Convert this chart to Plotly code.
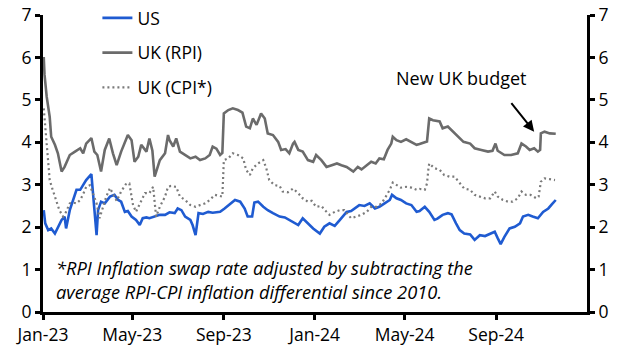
import plotly.graph_objects as go

# ---- data ----
us_dates = ["2023-01-02","2023-01-04","2023-01-08","2023-01-12","2023-01-17","2023-01-21","2023-01-26","2023-01-30",
 "2023-02-01","2023-02-06","2023-02-10","2023-02-15","2023-02-20","2023-02-24","2023-02-28","2023-03-07","2023-03-09",
 "2023-03-12","2023-03-14","2023-03-16","2023-03-20","2023-03-25","2023-04-01","2023-04-07","2023-04-12","2023-04-16",
 "2023-04-21","2023-04-25","2023-04-30","2023-05-06","2023-05-11","2023-05-15","2023-05-20","2023-05-24","2023-05-31",
 "2023-06-07","2023-06-14","2023-06-20","2023-06-27","2023-07-01","2023-07-06","2023-07-11","2023-07-18","2023-07-21",
 "2023-07-25","2023-07-29","2023-08-04","2023-08-11","2023-08-17","2023-08-27","2023-09-02","2023-09-09","2023-09-16",
 "2023-09-23","2023-09-29","2023-10-03","2023-10-09","2023-10-12","2023-10-17","2023-10-24","2023-10-30","2023-11-06",
 "2023-11-15","2023-11-22","2023-11-28","2023-12-03","2023-12-10","2023-12-16","2023-12-23","2023-12-30","2024-01-08",
 "2024-01-14","2024-01-21","2024-01-28","2024-02-04","2024-02-08","2024-02-13","2024-02-19","2024-02-24","2024-03-01",
 "2024-03-08","2024-03-15","2024-03-22","2024-03-28","2024-04-04","2024-04-11","2024-04-14","2024-04-20","2024-04-26",
 "2024-05-03","2024-05-10","2024-05-17","2024-05-21","2024-05-28","2024-06-03","2024-06-10","2024-06-14","2024-06-21",
 "2024-06-28","2024-07-03","2024-07-09","2024-07-14","2024-07-20","2024-07-28","2024-08-03","2024-08-10","2024-08-17",
 "2024-08-24","2024-08-30","2024-09-03","2024-09-07","2024-09-12","2024-09-19","2024-09-26","2024-10-03","2024-10-07",
 "2024-10-14","2024-10-20","2024-10-27","2024-11-03","2024-11-10","2024-11-15","2024-11-20"]
us_values = [2.40,2.09,1.93,1.97,1.85,2.01,2.17,2.25,
 1.97,2.40,2.60,2.88,2.88,2.99,3.11,3.25,2.80,
 2.30,1.81,2.40,2.60,2.56,2.72,2.76,2.64,2.60,
 2.36,2.38,2.25,2.17,2.05,2.21,2.23,2.21,2.25,
 2.29,2.29,2.35,2.33,2.44,2.40,2.25,2.17,2.05,
 1.81,2.33,2.31,2.36,2.34,2.36,2.44,2.54,2.64,
 2.60,2.44,2.25,2.25,2.58,2.60,2.48,2.40,2.33,
 2.25,2.23,2.17,2.11,2.05,2.21,2.09,1.97,1.85,
 2.01,2.09,2.03,2.17,2.25,2.36,2.38,2.44,2.52,
 2.50,2.56,2.44,2.48,2.56,2.64,2.76,2.68,2.64,
 2.56,2.52,2.36,2.38,2.48,2.36,2.17,2.20,2.29,
 2.33,2.30,2.09,1.93,1.85,1.83,1.70,1.81,1.79,
 1.85,1.89,1.74,1.60,1.77,1.97,2.01,2.09,2.25,
 2.29,2.25,2.21,2.36,2.44,2.54,2.64]

rpi_dates = ["2023-01-02","2023-01-03","2023-01-06","2023-01-10","2023-01-12","2023-01-17","2023-01-21","2023-01-26",
 "2023-01-30","2023-02-06","2023-02-13","2023-02-20","2023-02-24","2023-02-28","2023-03-07","2023-03-11","2023-03-15",
 "2023-03-20","2023-03-25","2023-03-31","2023-04-05","2023-04-10","2023-04-16","2023-04-25","2023-04-30","2023-05-04",
 "2023-05-09","2023-05-13","2023-05-20","2023-05-24","2023-05-28","2023-05-31","2023-06-07","2023-06-14","2023-06-18",
 "2023-06-20","2023-06-25","2023-06-29","2023-07-04","2023-07-11","2023-07-18","2023-07-25","2023-07-31","2023-08-07",
 "2023-08-13","2023-08-17","2023-08-22","2023-08-27","2023-08-30","2023-09-01","2023-09-07","2023-09-13","2023-09-20",
 "2023-09-26","2023-10-01","2023-10-06","2023-10-10","2023-10-15","2023-10-21","2023-10-26","2023-10-30","2023-11-06",
 "2023-11-13","2023-11-17","2023-11-23","2023-11-28","2023-12-03","2023-12-05","2023-12-10","2023-12-16","2023-12-23",
 "2023-12-30","2024-01-03","2024-01-10","2024-01-17","2024-01-24","2024-01-31","2024-02-06","2024-02-13","2024-02-22",
 "2024-02-28","2024-03-04","2024-03-11","2024-03-17","2024-03-23","2024-03-28","2024-04-03","2024-04-08","2024-04-13",
 "2024-04-15","2024-04-20","2024-04-26","2024-05-03","2024-05-10","2024-05-17","2024-05-21","2024-05-28","2024-05-31",
 "2024-06-03","2024-06-08","2024-06-17","2024-06-21","2024-06-28","2024-07-05","2024-07-12","2024-07-19","2024-07-28",
 "2024-08-03","2024-08-12","2024-08-21","2024-08-27","2024-08-31","2024-09-03","2024-09-12","2024-09-21","2024-09-30",
 "2024-10-05","2024-10-11","2024-10-16","2024-10-22","2024-10-27","2024-10-30","2024-10-31","2024-11-05","2024-11-12",
 "2024-11-20"]
rpi_values = [6.01,5.60,5.07,4.60,4.13,3.94,3.74,3.31,
 3.42,3.70,3.78,3.86,3.74,3.97,4.10,3.78,3.70,
 3.31,3.82,4.09,3.74,3.46,3.78,4.17,4.05,3.54,
 3.66,3.94,3.78,4.09,3.80,3.19,3.58,3.74,4.17,
 4.05,3.90,4.09,3.78,3.70,3.62,3.66,3.58,3.62,
 3.70,3.90,3.85,3.70,3.75,4.68,4.76,4.80,4.76,
 4.70,4.37,4.33,4.56,4.41,4.68,4.56,4.21,4.17,
 4.01,3.82,3.84,3.74,3.97,4.01,3.82,3.78,3.58,
 3.54,3.70,3.58,3.42,3.46,3.50,3.46,3.42,3.31,
 3.42,3.36,3.46,3.54,3.50,3.62,3.60,3.82,3.97,
 4.13,4.05,4.01,4.07,4.01,3.94,3.96,4.01,4.02,
 4.56,4.52,4.49,4.33,4.37,4.25,4.13,4.01,3.97,
 3.86,3.82,3.78,3.80,3.97,3.80,3.70,3.70,3.74,
 3.97,3.90,3.82,3.86,3.78,3.82,4.21,4.25,4.21,
 4.20]

cpi_dates = ["2023-01-02","2023-01-04","2023-01-06","2023-01-08","2023-01-10","2023-01-14","2023-01-19","2023-01-23",
 "2023-01-28","2023-02-01","2023-02-06","2023-02-10","2023-02-15","2023-02-20","2023-02-24","2023-02-28","2023-03-05",
 "2023-03-09","2023-03-14","2023-03-18","2023-03-23","2023-03-27","2023-04-01","2023-04-05","2023-04-10","2023-04-16",
 "2023-04-23","2023-04-27","2023-05-02","2023-05-06","2023-05-11","2023-05-18","2023-05-24","2023-05-29","2023-06-02",
 "2023-06-07","2023-06-14","2023-06-18","2023-06-22","2023-06-29","2023-07-04","2023-07-11","2023-07-18","2023-07-25",
 "2023-07-31","2023-08-07","2023-08-13","2023-08-20","2023-08-30","2023-09-01","2023-09-07","2023-09-13","2023-09-20",
 "2023-09-27","2023-10-01","2023-10-06","2023-10-10","2023-10-17","2023-10-24","2023-10-28","2023-11-01","2023-11-08",
 "2023-11-15","2023-11-19","2023-11-26","2023-12-03","2023-12-10","2023-12-16","2023-12-23","2023-12-28","2024-01-03",
 "2024-01-10","2024-01-17","2024-01-21","2024-01-28","2024-02-04","2024-02-10","2024-02-15","2024-02-19","2024-02-26",
 "2024-03-04","2024-03-11","2024-03-17","2024-03-24","2024-03-31","2024-04-07","2024-04-11","2024-04-15","2024-04-20",
 "2024-04-26","2024-05-03","2024-05-10","2024-05-17","2024-05-21","2024-05-28","2024-05-31","2024-06-02","2024-06-03",
 "2024-06-10","2024-06-17","2024-06-23","2024-06-30","2024-07-07","2024-07-14","2024-07-20","2024-07-28","2024-08-03",
 "2024-08-10","2024-08-17","2024-08-24","2024-08-30","2024-09-03","2024-09-10","2024-09-17","2024-09-23","2024-09-30",
 "2024-10-05","2024-10-11","2024-10-17","2024-10-25","2024-10-28","2024-10-31","2024-11-05","2024-11-12","2024-11-19"]
cpi_values = [4.80,4.37,3.97,3.50,3.11,2.88,2.64,2.40,
 2.25,2.36,2.56,2.58,2.56,2.64,2.78,2.95,2.99,
 2.80,2.56,2.21,2.48,2.72,2.92,2.80,2.62,2.84,
 3.03,3.03,2.52,2.36,2.56,2.80,2.80,2.95,2.25,
 2.48,2.72,2.95,2.97,2.95,2.72,2.64,2.52,2.48,
 2.52,2.56,2.64,2.76,2.72,3.58,3.62,3.74,3.70,
 3.62,3.35,3.23,3.39,3.50,3.58,3.39,3.11,2.99,
 2.97,2.84,2.82,2.91,2.80,2.68,2.60,2.62,2.48,
 2.50,2.36,2.29,2.36,2.40,2.40,2.29,2.21,2.25,
 2.29,2.36,2.48,2.48,2.56,2.76,2.88,3.05,2.99,
 2.93,2.95,2.93,2.88,2.90,2.88,3.03,3.39,3.50,
 3.39,3.35,3.23,3.19,3.19,3.03,2.91,2.88,2.76,
 2.72,2.68,2.68,2.84,2.72,2.64,2.60,2.60,2.68,
 2.84,2.76,2.76,2.68,2.72,3.07,3.15,3.13,3.11]

x_tick_vals = ["2023-01-01","2023-05-01","2023-09-01","2024-01-01","2024-05-01","2024-09-01"]
x_tick_text = ["Jan-23","May-23","Sep-23","Jan-24","May-24","Sep-24"]
y_ticks = [0, 1, 2, 3, 4, 5, 6, 7]

FONT = "Open Sans"
FS = 17.5

fig = go.Figure()
fig.add_trace(go.Scatter(x=us_dates, y=us_values, name="US", mode="lines",
                         line=dict(color="#1f5bd1", width=2.6), legendgroup="a"))
fig.add_trace(go.Scatter(x=rpi_dates, y=rpi_values, name="UK (RPI)", mode="lines",
                         line=dict(color="#6b6b6b", width=2.6), legendgroup="b"))
fig.add_trace(go.Scatter(x=cpi_dates, y=cpi_values, name="UK (CPI*)", mode="lines",
                         line=dict(color="#7a7a7a", width=2.2, dash="2px,3px"), legendgroup="c",
                         yaxis="y2"))

axis_common = dict(range=[0, 7], tickvals=y_ticks, showgrid=False, zeroline=False,
                   showline=True, linecolor="black", linewidth=3,
                   ticks="outside", ticklen=5, tickwidth=3, tickcolor="black",
                   ticklabeloverflow="allow",
                   tickfont=dict(family=FONT, size=FS, color="black"))

fig.update_layout(
    width=635, height=356,
    margin=dict(l=43, r=48, t=15, b=44, autoexpand=False),
    paper_bgcolor="white", plot_bgcolor="white",
    font=dict(family=FONT, size=FS, color="black"),
    xaxis=dict(range=["2023-01-01", "2025-01-01"], tickvals=x_tick_vals, ticktext=x_tick_text,
               showgrid=False, zeroline=False, showline=True, linecolor="black", linewidth=3,
               ticks="outside", ticklen=5, tickwidth=3, tickcolor="black",
               tickfont=dict(family=FONT, size=FS, color="black")),
    yaxis=dict(**axis_common, side="left"),
    yaxis2=dict(**axis_common, side="right", overlaying="y", anchor="x"),
    showlegend=True,
    legend=dict(x=0.1, y=1.0, xref="paper", yref="container", xanchor="left", yanchor="top",
                bgcolor="rgba(0,0,0,0)", font=dict(family=FONT, size=FS),
                tracegroupgap=9, traceorder="grouped"),
    annotations=[
        dict(x="2024-10-22", y=4.25, xref="x", yref="y", ax=-24, ay=-30, axref="pixel", ayref="pixel",
             text="", showarrow=True, arrowhead=2, arrowsize=1.1, arrowwidth=2, arrowcolor="black", standoff=0),
        dict(x="2024-07-16", y=5.51, xref="x", yref="y", text="New UK budget", showarrow=False,
             font=dict(family=FONT, size=18, color="black")),
        dict(x=0.02, y=0.111, xref="paper", yref="paper", xanchor="left", yanchor="middle", align="left",
             text="<i>*RPI Inflation swap rate adjusted by subtracting the<br>average RPI-CPI inflation differential since 2010.</i>",
             showarrow=False, font=dict(family=FONT, size=18.3, color="black")),
    ],
)

fig.write_html("out.html", config={"displayModeBar": False},
               post_script="document.body.style.margin='0';")
